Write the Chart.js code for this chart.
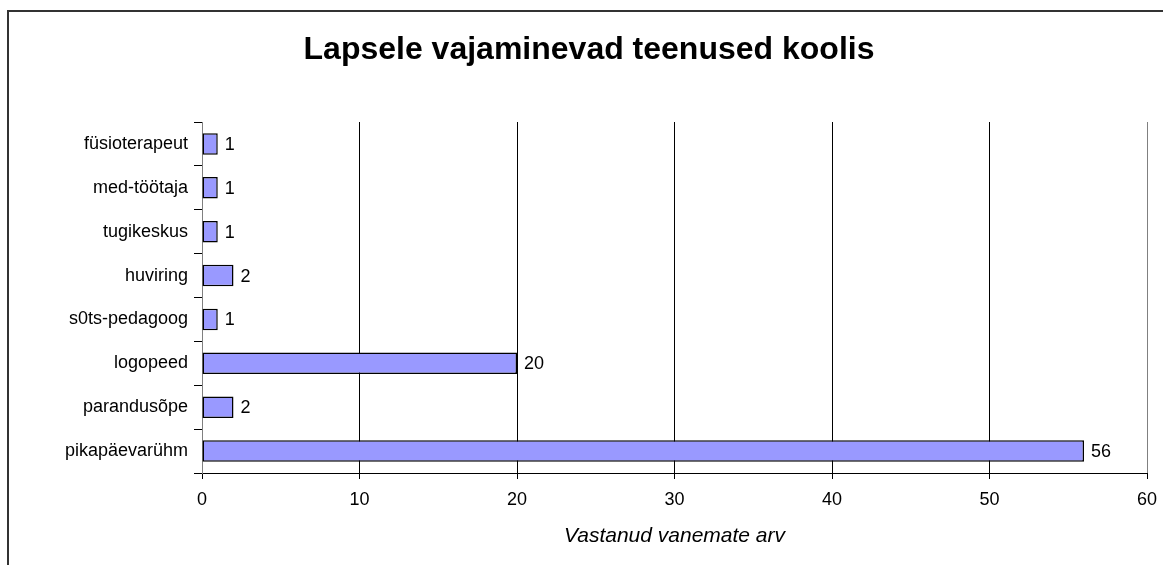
<!DOCTYPE html>
<html>
<head>
<meta charset="utf-8">
<script src="https://cdn.jsdelivr.net/npm/chart.js@4/dist/chart.umd.min.js"></script>
<style>
  html, body { margin: 0; padding: 0; background: #fff; overflow: hidden; }
  #wrap { position: relative; width: 1163px; height: 565px; }
  #frame { position: absolute; left: 7px; top: 10px; width: 1200px; height: 600px;
           border-left: 2px solid #333; border-top: 2px solid #333; pointer-events: none; }
  canvas { position: absolute; left: 0; top: 0; }
</style>
</head>
<body>
<div id="wrap">
  <canvas id="c" width="1163" height="565"></canvas>
  <div id="frame"></div>
</div>
<script>
const chartTitle = "Lapsele vajaminevad teenused koolis";
const axisTitle = "Vastanud vanemate arv";
const categories = ["füsioterapeut", "med-töötaja", "tugikeskus", "huviring", "s0ts-pedagoog", "logopeed", "parandusõpe", "pikapäevarühm"];
const values = [1, 1, 1, 2, 1, 20, 2, 56];
const xTicks = [0, 10, 20, 30, 40, 50, 60];

const FONT = "'Liberation Sans', Arial, sans-serif";

const valueLabels = {
  id: 'valueLabels',
  afterDatasetsDraw(chart) {
    const ctx = chart.ctx;
    const meta = chart.getDatasetMeta(0);
    ctx.save();
    ctx.font = "18px " + FONT;
    ctx.fillStyle = "#000";
    ctx.textBaseline = "middle";
    ctx.textAlign = "left";
    meta.data.forEach((bar, i) => {
      ctx.fillText(String(values[i]), bar.x + 7, bar.y + 1);
    });
    ctx.restore();
  }
};

const titleDraw = {
  id: 'titleDraw',
  afterDraw(chart) {
    const ctx = chart.ctx;
    ctx.save();
    ctx.font = "bold 32px " + FONT;
    ctx.fillStyle = "#000";
    ctx.textAlign = "center";
    ctx.textBaseline = "middle";
    ctx.fillText(chartTitle, 589, 50);
    ctx.restore();
  }
};

new Chart(document.getElementById('c'), {
  type: 'bar',
  data: {
    labels: categories,
    datasets: [{
      data: values,
      backgroundColor: '#9999FF',
      borderColor: '#000',
      borderWidth: 1.5,
      borderSkipped: false,
      barPercentage: 0.49,
      categoryPercentage: 1.0
    }]
  },
  options: {
    indexAxis: 'y',
    responsive: false,
    animation: false,
    devicePixelRatio: 1,
    layout: { padding: { left: 0, right: 16, top: 122, bottom: 0 } },
    plugins: {
      legend: { display: false },
      tooltip: { enabled: false },
      title: { display: false }
    },
    scales: {
      x: {
        type: 'linear',
        min: 0,
        max: 60,
        afterBuildTicks(scale) { scale.ticks = xTicks.map(v => ({ value: v })); },
        afterFit(scale) { scale.height = 92; scale.paddingRight = 0; scale.paddingLeft = 0; },
        ticks: { color: '#000', font: { family: FONT, size: 18 }, padding: 10 },
        grid: {
          color: (c) => (c.tick && c.tick.value === 60) ? '#808080' : '#000',
          lineWidth: 1,
          tickLength: 6,
          tickColor: '#000'
        },
        border: { display: true, color: '#000', width: 1 },
        title: {
          display: true,
          text: axisTitle,
          color: '#000',
          font: { family: FONT, size: 21, style: 'italic' },
          padding: { top: 0, bottom: 16 }
        }
      },
      y: {
        afterFit(scale) { scale.width = 202; scale.paddingTop = 0; scale.paddingBottom = 0; },
        ticks: { color: '#000', font: { family: FONT, size: 18 }, padding: 6 },
        grid: {
          drawOnChartArea: false,
          tickLength: 8,
          tickColor: '#000',
          offset: true
        },
        border: { display: true, color: '#808080', width: 1 }
      }
    }
  },
  plugins: [valueLabels, titleDraw]
});
</script>
</body>
</html>
